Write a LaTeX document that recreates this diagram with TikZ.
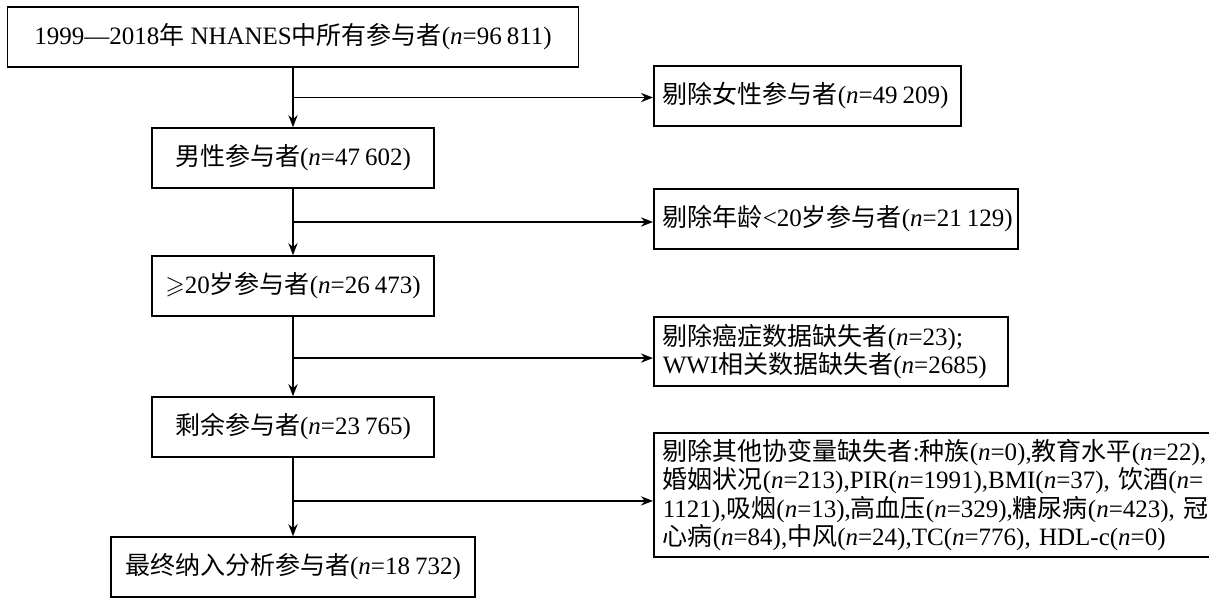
\documentclass[tikz,border=0pt]{standalone}
\usepackage{amssymb}
\usepackage{fontspec}
\setmainfont{Liberation Serif}
\newfontfamily\zhfont{Noto Sans CJK SC}
\newcommand\zh[1]{{\zhfont #1}}
\newcommand\nn{\textit{n}}
\newcommand\ts{\kern0.2em}
\usetikzlibrary{arrows.meta}
\begin{document}
\begin{tikzpicture}[x=0.5pt,y=-0.5pt,
  box/.style={draw,line width=0.8pt,inner sep=0pt,minimum height=30pt,font=\fontsize{12.5}{12.9}\selectfont},
  mainbox/.style={box,align=center},
  sidebox/.style={box,anchor=west,align=left,inner xsep=4.5pt,text width=#1},
  arr/.style={line width=0.75pt,-{Stealth[length=6pt,width=4.6pt]}}
]
\useasboundingbox[fill=white] (0,0) rectangle (1209,600);

\node[mainbox,minimum width=285.5pt] (b1) at (293,37) {1999—2018\zh{年} NHANES\zh{中所有参与者}(\nn=96\ts811)};
\node[mainbox,minimum width=141pt] (b2) at (293,158) {\zh{男性参与者}(\nn=47\ts602)};
\node[mainbox,minimum width=141pt] (b3) at (293,286) {$\geqslant$20\zh{岁参与者}(\nn=26\ts473)};
\node[mainbox,minimum width=141pt] (b4) at (293,427) {\zh{剩余参与者}(\nn=23\ts765)};
\node[mainbox,minimum width=182pt] (b5) at (293,567) {\zh{最终纳入分析参与者}(\nn=18\ts732)};

\node[sidebox=144.5pt] (e1) at (653,96) {\zh{剔除女性参与者}(\nn=49\ts209)};
\node[sidebox=173pt] (e2) at (653,219) {\zh{剔除年龄}<20\zh{岁参与者}(\nn=21\ts129)};
\node[sidebox=168pt,minimum height=34.5pt] (e3) at (653,351.5) {\zh{剔除癌症数据缺失者}(\nn=23);\\WWI\zh{相关数据缺失者}(\nn=2685)};
\node[sidebox=300pt,minimum height=62pt] (e4) at (653,495) {\zh{剔除其他协变量缺失者}:\zh{种族}(\nn=0),\zh{教育水平}(\nn=22),\\
\zh{婚姻状况}(\nn=213),PIR(\nn=1991),BMI(\nn=37), \zh{饮酒}(\nn=\\
1121),\zh{吸烟}(\nn=13),\zh{高血压}(\nn=329),\zh{糖尿病}(\nn=423), \zh{冠}\\
\zh{心病}(\nn=84),\zh{中风}(\nn=24),TC(\nn=776), HDL-c(\nn=0)};

\draw[arr] (b1.south) -- (b2.north);
\draw[arr] (b2.south) -- (b3.north);
\draw[arr] (b3.south) -- (b4.north);
\draw[arr] (b4.south) -- (b5.north);

\path (b1.south) -- (b2.north) coordinate[pos=0.5] (j1);
\path (b2.south) -- (b3.north) coordinate[pos=0.5] (j2);
\path (b3.south) -- (b4.north) coordinate[pos=0.52] (j3);
\path (b4.south) -- (b5.north) coordinate[pos=0.55] (j4);

\draw[arr] (j1) -- (j1 -| e1.west);
\draw[arr] (j2) -- (j2 -| e2.west);
\draw[arr] (j3) -- (j3 -| e3.west);
\draw[arr] (j4) -- (j4 -| e4.west);
\end{tikzpicture}
\end{document}
